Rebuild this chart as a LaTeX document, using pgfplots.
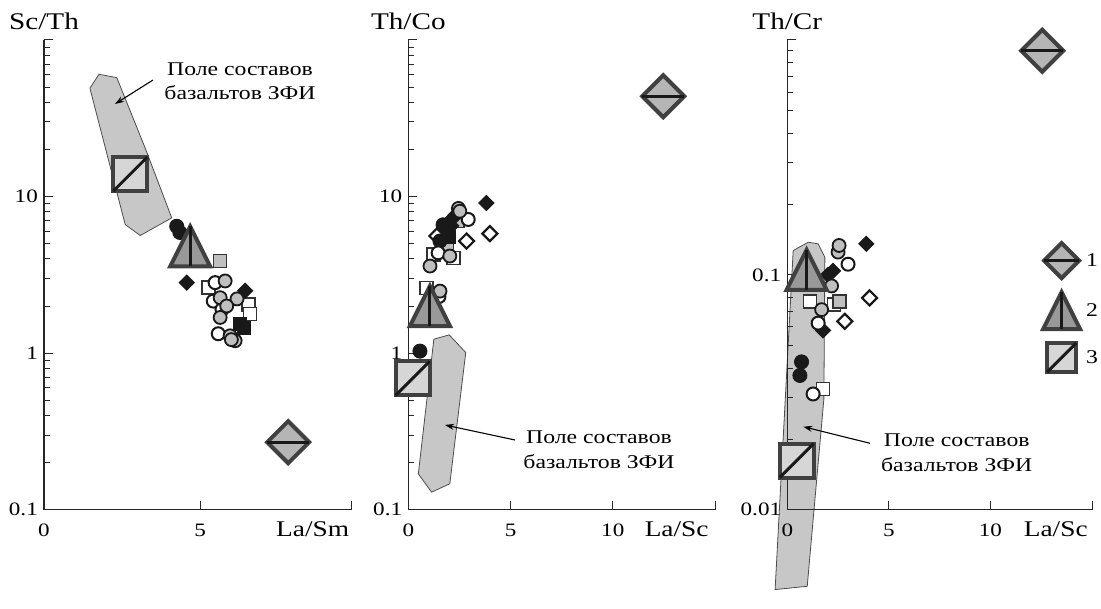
\documentclass[border=0pt]{standalone}
\usepackage{fontspec}
\setmainfont{Liberation Serif}[FakeStretch=1.22]
\usepackage{pgfplots}
\pgfplotsset{compat=1.18}
\usetikzlibrary{arrows.meta}

\definecolor{fieldgray}{gray}{0.78}
\definecolor{edgegray}{gray}{0.25}
\definecolor{circgray}{gray}{0.75}
\definecolor{diafill}{gray}{0.71}
\definecolor{trifill}{gray}{0.60}
\definecolor{sqfill}{gray}{0.84}
\definecolor{ink}{gray}{0.1}

% large symbols: outlined shape with an inner stroke
\pgfdeclareplotmark{bigdia}{%
  \pgfpathmoveto{\pgfqpoint{0pt}{\pgfplotmarksize}}%
  \pgfpathlineto{\pgfqpoint{\pgfplotmarksize}{0pt}}%
  \pgfpathlineto{\pgfqpoint{0pt}{-\pgfplotmarksize}}%
  \pgfpathlineto{\pgfqpoint{-\pgfplotmarksize}{0pt}}%
  \pgfpathclose\pgfusepathqfillstroke
  \pgfscope\pgfsetstrokecolor{ink}\pgfsetlinewidth{3bp}%
  \pgfpathmoveto{\pgfqpoint{-\pgfplotmarksize}{0pt}}%
  \pgfpathlineto{\pgfqpoint{\pgfplotmarksize}{0pt}}%
  \pgfusepathqstroke\endpgfscope}
\pgfdeclareplotmark{bigtri}{%
  \pgfpathmoveto{\pgfqpoint{0pt}{\pgfplotmarksize}}%
  \pgfpathlineto{\pgfqpoint{\pgfplotmarksize}{-\pgfplotmarksize}}%
  \pgfpathlineto{\pgfqpoint{-\pgfplotmarksize}{-\pgfplotmarksize}}%
  \pgfpathclose\pgfusepathqfillstroke
  \pgfscope\pgfsetstrokecolor{ink}\pgfsetlinewidth{3bp}%
  \pgfpathmoveto{\pgfqpoint{0pt}{\pgfplotmarksize}}%
  \pgfpathlineto{\pgfqpoint{0pt}{-\pgfplotmarksize}}%
  \pgfusepathqstroke\endpgfscope}
\pgfdeclareplotmark{bigsq}{%
  \pgfpathrectanglecorners{\pgfqpoint{-\pgfplotmarksize}{-\pgfplotmarksize}}{\pgfqpoint{\pgfplotmarksize}{\pgfplotmarksize}}%
  \pgfusepathqfillstroke
  \pgfscope\pgfsetstrokecolor{ink}\pgfsetlinewidth{3bp}%
  \pgfpathmoveto{\pgfqpoint{-\pgfplotmarksize}{-\pgfplotmarksize}}%
  \pgfpathlineto{\pgfqpoint{\pgfplotmarksize}{\pgfplotmarksize}}%
  \pgfusepathqstroke\endpgfscope}
% square diamond for the small points
\pgfdeclareplotmark{rdia}{%
  \pgfpathmoveto{\pgfqpoint{0pt}{\pgfplotmarksize}}%
  \pgfpathlineto{\pgfqpoint{\pgfplotmarksize}{0pt}}%
  \pgfpathlineto{\pgfqpoint{0pt}{-\pgfplotmarksize}}%
  \pgfpathlineto{\pgfqpoint{-\pgfplotmarksize}{0pt}}%
  \pgfpathclose\pgfusepathqfillstroke}

\pgfplotsset{
  field/.style={fill=fieldgray, draw=black!70, line width=0.8bp, mark=none, forget plot},
  graycirc/.style={only marks, forget plot, mark=*, mark size=6.5bp, mark options={fill=circgray, draw=ink, line width=1.8bp}},
  whitecirc/.style={only marks, forget plot, mark=*, mark size=6.5bp, mark options={fill=white, draw=ink, line width=2bp}},
  blackcirc/.style={only marks, forget plot, mark=*, mark size=7bp, mark options={fill=ink, draw=ink, line width=1bp}},
  opensq/.style={only marks, forget plot, mark=square*, mark size=6.5bp, mark options={fill=white, draw=black!80, line width=1.6bp}},
  graysq/.style={only marks, forget plot, mark=square*, mark size=6.5bp, mark options={fill=circgray, draw=black!80, line width=1.6bp}},
  blacksq/.style={only marks, forget plot, mark=square*, mark size=6.5bp, mark options={fill=ink, draw=ink, line width=1bp}},
  blackdia/.style={only marks, forget plot, mark=rdia, mark size=7.5bp, mark options={fill=ink, draw=ink, line width=1bp}},
  opendia/.style={only marks, forget plot, mark=rdia, mark size=7.5bp, mark options={fill=white, draw=ink, line width=2.2bp, line join=miter}},
  sym1/.style={only marks, forget plot, mark=bigdia, mark size=21bp, mark options={fill=diafill, draw=edgegray, line width=4bp, line join=miter}},
  sym2/.style={only marks, forget plot, mark=bigtri, mark size=20bp, mark options={fill=trifill, draw=edgegray, line width=4bp, line join=miter}},
  sym3/.style={only marks, forget plot, mark=bigsq, mark size=17bp, mark options={fill=sqfill, draw=edgegray, line width=4bp, line join=miter}},
}

\begin{document}
\begin{tikzpicture}
\useasboundingbox (0bp,0bp) rectangle (1101bp,609bp);

% ---------- Sc/Th vs La/Sm ----------
\begin{axis}[at={(44bp,99.3bp)}, anchor=south west, scale only axis,
  width=307bp, height=469.7bp, ymode=log, clip=false,
  axis x line*=bottom, axis y line*=left,
  axis line style={line width=1.1bp, black!85},
  tick align=inside, major tick length=9bp, minor tick length=6bp,
  every tick/.append style={line width=1bp, black!85},
  xmin=0, xmax=9.83, ymin=0.1, ymax=100,
  xtick={0,5,9.83}, xticklabels={0,5,{}},
  ytick={0.1,1,10,100}, yticklabels={0.1,1,10,{}},
  minor ytick={0.2,0.3,0.4,0.5,0.6,0.7,0.8,0.9,2,3,4,5,6,7,8,9,20,30,40,50,60,70,80,90},
  tick label style={font=\fontsize{19}{22}\selectfont},
  xticklabel style={anchor=base, inner sep=0pt, yshift=-27bp},
  yticklabel style={anchor=east, inner sep=0pt, xshift=-6bp},
  xlabel={La/Sm}, ylabel={Sc/Th},
  every axis y label/.style={at={(rel axis cs:0,1)}, anchor=base, yshift=10bp, font=\fontsize{24}{26}\selectfont},
  every axis x label/.style={at={(rel axis cs:0.875,0)}, anchor=base, yshift=-27bp, font=\fontsize{22.5}{25}\selectfont}]
\addplot[field] coordinates {(1.47,49.2) (1.76,60.4) (2.33,57.5) (3.24,20.4) (4.09,7.31) (3.08,5.64) (2.6,6.63) (1.47,49.2)};
\addplot[opensq] coordinates {(5.26,2.62) (6.55,2.05) (6.6,1.78)};
\addplot[graysq] coordinates {(5.64,3.87)};
\addplot[blacksq] coordinates {(6.28,1.53) (6.4,1.45)};
\addplot[blackdia] coordinates {(4.57,2.82) (6.44,2.5)};
\addplot[blackcirc] coordinates {(4.25,6.46) (4.35,5.9)};
\addplot[whitecirc] coordinates {(5.48,2.82) (5.42,2.15) (5.58,1.33) (5.7,1.9)};
\addplot[graycirc] coordinates {(5.8,2.89) (5.64,2.26) (6.18,2.22) (5.64,1.69) (5.96,1.29) (6.12,1.2) (5.85,2.0) (6.0,1.22)};
\addplot[sym3] coordinates {(2.76,13.9)};
\addplot[sym2] coordinates {(4.68,4.8)};
\addplot[sym1] coordinates {(7.82,0.27)};
\end{axis}

% ---------- Th/Co vs La/Sc ----------
\begin{axis}[at={(408.3bp,99.3bp)}, anchor=south west, scale only axis,
  width=306.7bp, height=469.7bp, ymode=log, clip=false,
  axis x line*=bottom, axis y line*=left,
  axis line style={line width=1.1bp, black!85},
  tick align=inside, major tick length=9bp, minor tick length=6bp,
  every tick/.append style={line width=1bp, black!85},
  xmin=0, xmax=15, ymin=0.1, ymax=100,
  xtick={0,5,10,15}, xticklabels={0,5,10,{}},
  ytick={0.1,1,10,100}, yticklabels={0.1,1,10,{}},
  minor ytick={0.2,0.3,0.4,0.5,0.6,0.7,0.8,0.9,2,3,4,5,6,7,8,9,20,30,40,50,60,70,80,90},
  tick label style={font=\fontsize{19}{22}\selectfont},
  xticklabel style={anchor=base, inner sep=0pt, yshift=-27bp},
  yticklabel style={anchor=east, inner sep=0pt, xshift=-6bp},
  xlabel={La/Sc}, ylabel={Th/Co},
  every axis y label/.style={at={(rel axis cs:0,1)}, anchor=base, yshift=10bp, font=\fontsize{24}{26}\selectfont},
  every axis x label/.style={at={(rel axis cs:0.875,0)}, anchor=base, yshift=-27bp, font=\fontsize{22.5}{25}\selectfont}]
\addplot[field] coordinates {(1.25,1.228) (2.0,1.308) (2.81,1.009) (2.03,0.1465) (1.14,0.1294) (0.49,0.1695) (1.25,1.228)};
\addplot[opensq] coordinates {(1.22,4.27) (2.2,4.06) (0.9,2.6)};
\addplot[graysq] coordinates {(2.4,7.0) (1.9,4.6)};
\addplot[blacksq] coordinates {(2.0,5.5)};
\addplot[blackdia] coordinates {(3.82,9.1) (1.87,6.0) (2.18,7.3) (2.1,6.5) (1.8,5.8) (2.3,7.6) (1.6,5.4)};
\addplot[opendia] coordinates {(3.99,5.8) (2.85,5.2) (1.4,5.6)};
\addplot[blackcirc] coordinates {(1.55,5.2) (1.7,6.6) (0.57,1.03)};
\addplot[whitecirc] coordinates {(2.93,7.14) (1.46,4.37) (1.5,2.3)};
\addplot[graycirc] coordinates {(2.45,8.4) (2.52,8.06) (2.03,4.17) (1.06,3.6) (1.55,2.49)};
\addplot[sym3] coordinates {(0.21,0.69)};
\addplot[sym2] coordinates {(1.06,2.0)};
\addplot[sym1] coordinates {(12.47,43.7)};
\end{axis}

% ---------- Th/Cr vs La/Sc ----------
\begin{axis}[at={(787.3bp,99.3bp)}, anchor=south west, scale only axis,
  width=304.7bp, height=469.7bp, ymode=log, clip=false, axis on top,
  axis x line*=bottom, axis y line*=left,
  axis line style={line width=1.1bp, black!85},
  tick align=inside, major tick length=9bp, minor tick length=6bp,
  every tick/.append style={line width=1bp, black!85},
  xmin=0, xmax=15, ymin=0.01, ymax=1,
  xtick={0,5,10,15}, xticklabels={0,5,10,{}},
  ytick={0.01,0.1,1}, yticklabels={0.01,0.1,{}},
  minor ytick={0.02,0.03,0.04,0.05,0.06,0.07,0.08,0.09,0.2,0.3,0.4,0.5,0.6,0.7,0.8,0.9},
  tick label style={font=\fontsize{19}{22}\selectfont},
  xticklabel style={anchor=base, inner sep=0pt, yshift=-27bp},
  yticklabel style={anchor=east, inner sep=0pt, xshift=-6bp},
  xlabel={La/Sc}, ylabel={Th/Cr},
  every axis y label/.style={at={(rel axis cs:0,1)}, anchor=base, yshift=10bp, font=\fontsize{24}{26}\selectfont},
  every axis x label/.style={at={(rel axis cs:0.881,0)}, anchor=base, yshift=-27bp, font=\fontsize{22.5}{25}\selectfont},
  legend image code/.code={\draw[#1] plot coordinates {(0bp,0bp)};},
  legend style={draw=none, fill=none, at={(rel axis cs:0.839,0.568)}, anchor=north west,
    inner sep=0pt, row sep=14bp, font=\fontsize{19.5}{22}\selectfont},
  legend cell align=left]
\addplot[field] coordinates {(0.29,0.1269) (1.03,0.1377) (1.52,0.1355) (1.85,0.1187) (1.8,0.0296) (0.98,0.00472) (-0.6,0.00457) (0.29,0.1269)};
\addplot[opensq] coordinates {(1.76,0.0327) (1.11,0.077) (2.3,0.075)};
\addplot[graysq] coordinates {(2.58,0.077)};
\addplot[blackdia] coordinates {(3.89,0.1355) (1.76,0.058) (2.25,0.104) (2.0,0.1)};
\addplot[opendia] coordinates {(4.05,0.0798) (2.83,0.0634)};
\addplot[blackcirc] coordinates {(0.7,0.0426) (0.62,0.0373)};
\addplot[whitecirc] coordinates {(2.99,0.111) (1.52,0.0623) (1.27,0.0311)};
\addplot[graycirc] coordinates {(2.5,0.125) (2.55,0.1334) (2.18,0.0897) (1.69,0.0711)};
\addplot[sym3] coordinates {(0.46,0.0162)};
\addplot[sym2] coordinates {(0.95,0.105)};
\addplot[sym1] coordinates {(12.55,0.9)};
\addlegendimage{mark=bigdia, mark size=17.5bp, mark options={fill=diafill, draw=edgegray, line width=4bp, line join=miter}}
\addlegendimage{mark=bigtri, mark size=18.5bp, mark options={fill=trifill, draw=edgegray, line width=4bp, line join=miter}}
\addlegendimage{mark=bigsq, mark size=14.5bp, mark options={fill=sqfill, draw=edgegray, line width=4bp, line join=miter}}
\legend{\hspace{4bp}1,\hspace{4bp}2,\hspace{4bp}3}
\end{axis}

% annotations
\begin{scope}[font=\fontsize{19.5}{23}\selectfont]
\node[anchor=base] at (240bp,533bp) {Поле составов};
\node[anchor=base] at (240bp,509.7bp) {базальтов ЗФИ};
\draw[line width=1.1bp, -{Stealth[length=9bp,width=6bp]}] (153bp,529bp) -- (115bp,505bp);
\node[anchor=base] at (599bp,165.7bp) {Поле составов};
\node[anchor=base] at (599bp,140.7bp) {базальтов ЗФИ};
\draw[line width=1.1bp, -{Stealth[length=9bp,width=6bp]}] (515bp,169bp) -- (445bp,184bp);
\node[anchor=base] at (956.7bp,162.3bp) {Поле составов};
\node[anchor=base] at (956.7bp,137.3bp) {базальтов ЗФИ};
\draw[line width=1.1bp, -{Stealth[length=9bp,width=6bp]}] (870bp,165.7bp) -- (803.3bp,182.3bp);
\end{scope}
\end{tikzpicture}
\end{document}
